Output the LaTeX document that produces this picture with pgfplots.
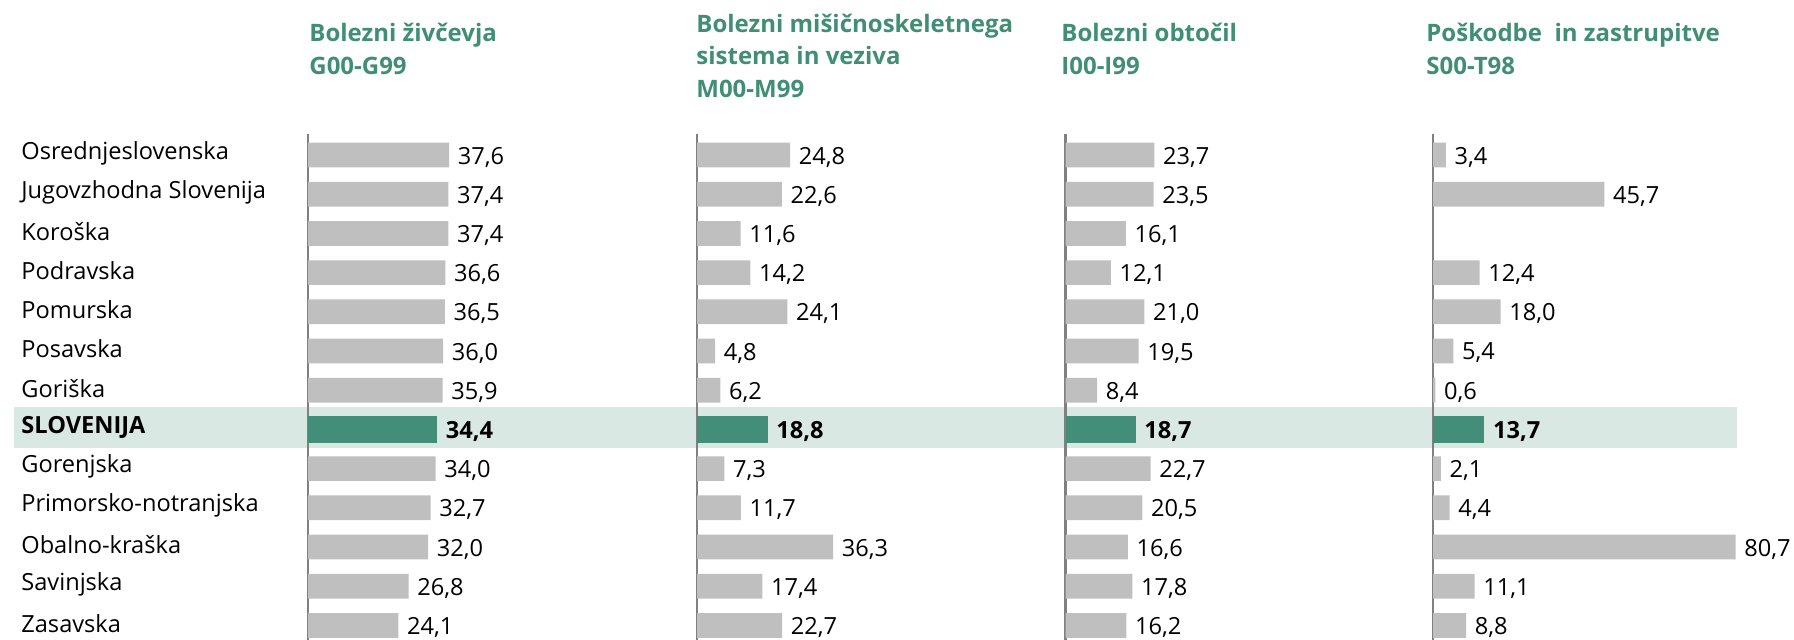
\documentclass[border=0pt]{standalone}
\usepackage{fontspec}
\setmainfont{Open Sans}
\usepackage{pgfplots}
\usepackage{pgfplotstable}
\pgfplotsset{compat=1.18}

\definecolor{titlegreen}{RGB}{64,142,116}
\definecolor{bargreen}{RGB}{66,142,120}
\definecolor{bargrey}{RGB}{191,191,191}
\definecolor{bandcol}{RGB}{218,232,228}
\definecolor{axisgrey}{RGB}{128,128,128}

% rows: 0 Osrednjeslovenska ... 7 SLOVENIJA ... 12 Zasavska
\pgfplotstableread{
y v
0 37.6
1 37.4
2 37.4
3 36.6
4 36.5
5 36.0
6 35.9
8 34.0
9 32.7
10 32.0
11 26.8
12 24.1
}\dataA
\pgfplotstableread{
y v
0 24.8
1 22.6
2 11.6
3 14.2
4 24.1
5 4.8
6 6.2
8 7.3
9 11.7
10 36.3
11 17.4
12 22.7
}\dataB
\pgfplotstableread{
y v
0 23.7
1 23.5
2 16.1
3 12.1
4 21.0
5 19.5
6 8.4
8 22.7
9 20.5
10 16.6
11 17.8
12 16.2
}\dataC
\pgfplotstableread{
y v
0 3.4
1 45.7
3 12.4
4 18.0
5 5.4
6 0.6
8 2.1
9 4.4
10 80.7
11 11.1
12 8.8
}\dataD

\newcommand{\lblfont}{\fontsize{11.8}{14}\selectfont}
\newcommand{\ttlfont}{\fontsize{12}{14}\selectfont\bfseries\color{titlegreen}}

\pgfplotsset{
  panel/.style={
    anchor=north west,
    xbar, /pgf/bar shift=0pt,
    x=1.875pt, y=19.6pt, y dir=reverse,
    xmin=0, xmax=80, ymin=-0.536, ymax=12.37,
    axis x line=none, axis y line*=left,
    axis line style={draw=axisgrey, line width=1.2pt},
    ytick={0,...,12}, major tick length=0pt, yticklabels={},
    xtick=\empty,
    clip=false,
    point meta=x,
    nodes near coords={\pgfmathprintnumber[fixed,fixed zerofill,precision=1,use comma,assume math mode=true]{\pgfplotspointmeta}},
    every node near coord/.append style={font=\lblfont, inner xsep=4.2pt, text=black, yshift=-1pt},
  },
  greybar/.style={fill=bargrey, draw=none, bar width=12.35pt},
  greenbar/.style={fill=bargreen, draw=none, bar width=13.85pt,
    every node near coord/.append style={font=\lblfont\bfseries}},
}

\begin{document}
\begin{tikzpicture}
\path[use as bounding box] (0pt,0pt) rectangle (897pt,320pt);
% highlighted SLOVENIJA row band
\fill[bandcol] (7pt,96.15pt) rectangle (868.5pt,116.35pt);

% Panel 1
\begin{axis}[panel, at={(154pt,253pt)},
  yticklabels={Osrednjeslovenska, Jugovzhodna Slovenija, Koroška, Podravska, Pomurska, Posavska, Goriška, \textbf{SLOVENIJA}, Gorenjska, Primorsko-notranjska, Obalno-kraška, Savinjska, Zasavska},
  yticklabel style={anchor=west, inner xsep=0pt, xshift=-143.5pt, yshift=1pt, font=\lblfont, text=black}]
\addplot[greybar] table[x=v,y=y]{\dataA};
\addplot[greenbar] coordinates {(34.4,7)};
\end{axis}

% Panel 2
\begin{axis}[panel, at={(348.5pt,253pt)}]
\addplot[greybar] table[x=v,y=y]{\dataB};
\addplot[greenbar] coordinates {(18.8,7)};
\end{axis}

% Panel 3
\begin{axis}[panel, at={(532.75pt,253pt)}]
\addplot[greybar] table[x=v,y=y]{\dataC};
\addplot[greenbar] coordinates {(18.7,7)};
\end{axis}

% Panel 4
\begin{axis}[panel, at={(716.5pt,253pt)}, xmax=85]
\addplot[greybar] table[x=v,y=y]{\dataD};
\addplot[greenbar] coordinates {(13.7,7)};
\end{axis}

% titles
\node[anchor=base west, inner sep=0pt, font=\ttlfont] at (154.5pt,299pt) {Bolezni živčevja};
\node[anchor=base west, inner sep=0pt, font=\ttlfont] at (154.5pt,282.8pt) {G00-G99};
\node[anchor=base west, inner sep=0pt, font=\ttlfont] at (348pt,303.8pt) {Bolezni mišičnoskeletnega};
\node[anchor=base west, inner sep=0pt, font=\ttlfont] at (348pt,287.6pt) {sistema in veziva};
\node[anchor=base west, inner sep=0pt, font=\ttlfont] at (348pt,271.4pt) {M00-M99};
\node[anchor=base west, inner sep=0pt, font=\ttlfont] at (530.5pt,299pt) {Bolezni obtočil};
\node[anchor=base west, inner sep=0pt, font=\ttlfont] at (530.5pt,282.8pt) {I00-I99};
\node[anchor=base west, inner sep=0pt, font=\ttlfont] at (713pt,299pt) {Poškodbe\ \ in zastrupitve};
\node[anchor=base west, inner sep=0pt, font=\ttlfont] at (713pt,282.8pt) {S00-T98};
\end{tikzpicture}
\end{document}
